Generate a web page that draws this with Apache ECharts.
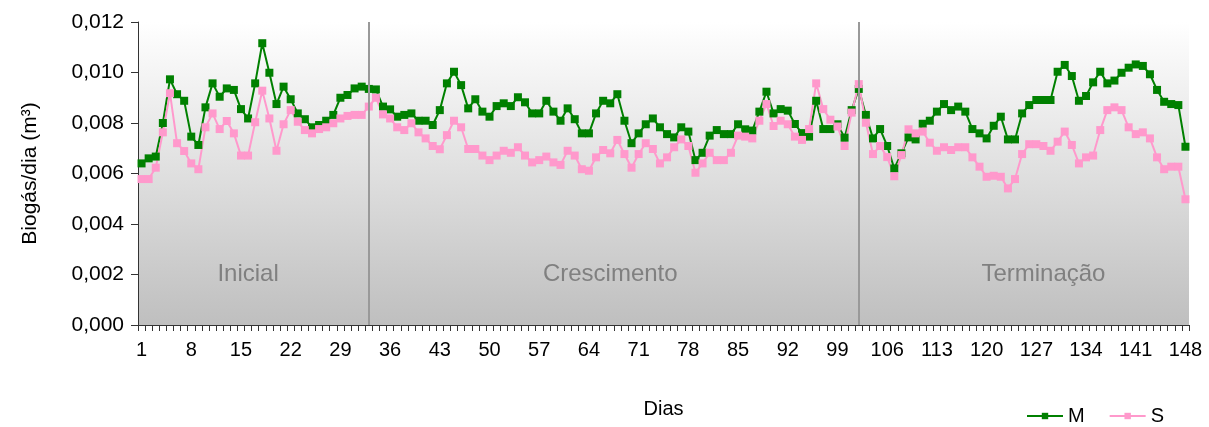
<!DOCTYPE html>
<html>
<head>
<meta charset="utf-8">
<script src="https://cdn.jsdelivr.net/npm/echarts@6/dist/echarts.min.js"></script>
<style>
  html, body { margin: 0; padding: 0; background: #fff; }
  #chart { width: 1209px; height: 427px; }
</style>
</head>
<body>
<div id="chart"></div>
<script>
// dias 1..148
const days = Array.from({ length: 148 }, (_, i) => String(i + 1));

// biogas por dia (m3)
const serieM = [
  0.0064, 0.0066, 0.00667, 0.0080, 0.00973, 0.00914, 0.00888, 0.00746, 0.00713, 0.00862,
  0.00957, 0.00904, 0.00937, 0.00931, 0.00855, 0.00818, 0.00957, 0.01116, 0.00999, 0.00875,
  0.00944, 0.00894, 0.00838, 0.00815, 0.00783, 0.00792, 0.00809, 0.00832, 0.0090, 0.00911,
  0.00937, 0.00944, 0.00935, 0.00933, 0.00865, 0.00854, 0.00825, 0.00832, 0.00838, 0.00809,
  0.00809, 0.00792, 0.00851, 0.00957, 0.01003, 0.0095, 0.00858, 0.00894, 0.00845, 0.00825,
  0.00867, 0.00878, 0.00867, 0.00902, 0.00882, 0.00838, 0.00838, 0.00888, 0.00845, 0.00809,
  0.00858, 0.00815, 0.00759, 0.00759, 0.00838, 0.00888, 0.00878, 0.00914, 0.00809, 0.0072,
  0.00759, 0.00795, 0.00818, 0.00783, 0.00756, 0.00743, 0.00783, 0.00766, 0.00653, 0.00682,
  0.0075, 0.00772, 0.00756, 0.00756, 0.00795, 0.00775, 0.0077, 0.00845, 0.00924, 0.00838,
  0.00855, 0.00849, 0.00796, 0.0076, 0.00746, 0.00888, 0.00776, 0.00776, 0.00795, 0.00742,
  0.00851, 0.00935, 0.00832, 0.00739, 0.00776, 0.00709, 0.0062, 0.0068, 0.00743, 0.00735,
  0.00797, 0.00809, 0.00845, 0.00875, 0.00851, 0.00865, 0.00845, 0.00776, 0.00759, 0.00739,
  0.00789, 0.00825, 0.00735, 0.00735, 0.00838, 0.00871, 0.00891, 0.00891, 0.00891, 0.01003,
  0.0103, 0.00986, 0.00888, 0.00907, 0.00961, 0.01003, 0.00957, 0.00968, 0.00999, 0.01019,
  0.01032, 0.01026, 0.00993, 0.00931, 0.00884, 0.00875, 0.00871, 0.00706
];
const serieS = [
  0.00578, 0.00578, 0.00623, 0.00763, 0.00918, 0.0072, 0.00689, 0.0064, 0.00617, 0.00783,
  0.00838, 0.00776, 0.00808, 0.00759, 0.00671, 0.00671, 0.00803, 0.00928, 0.00818, 0.0069,
  0.00795, 0.00851, 0.00805, 0.00772, 0.00759, 0.00776, 0.00783, 0.00799, 0.00818, 0.00828,
  0.00832, 0.00832, 0.00865, 0.0090, 0.00834, 0.00818, 0.00783, 0.00772, 0.00799, 0.00763,
  0.00739, 0.00709, 0.00696, 0.00752, 0.00809, 0.00783, 0.00697, 0.00697, 0.00671, 0.00653,
  0.00671, 0.0069, 0.00682, 0.00704, 0.00671, 0.00644, 0.00653, 0.00667, 0.00644, 0.00634,
  0.0069, 0.00671, 0.00617, 0.00611, 0.00664, 0.00693, 0.0068, 0.00733, 0.00677, 0.00623,
  0.00677, 0.0072, 0.00697, 0.0064, 0.00664, 0.00704, 0.00735, 0.00709, 0.00603, 0.0064,
  0.00682, 0.00653, 0.00653, 0.00682, 0.0075, 0.00746, 0.00739, 0.00809, 0.00875, 0.00788,
  0.00809, 0.00795, 0.00746, 0.00733, 0.00776, 0.00957, 0.00855, 0.00813, 0.00786, 0.00709,
  0.00841, 0.00954, 0.00801, 0.00677, 0.00709, 0.00665, 0.00589, 0.00673, 0.00775, 0.00759,
  0.00766, 0.00722, 0.0069, 0.00704, 0.00693, 0.00704, 0.00704, 0.00664, 0.00627, 0.00587,
  0.00591, 0.00587, 0.00541, 0.00578, 0.00677, 0.00716, 0.00716, 0.00709, 0.0069, 0.00726,
  0.00766, 0.00713, 0.0064, 0.00664, 0.00671, 0.00772, 0.00851, 0.00862, 0.00851, 0.00783,
  0.00756, 0.00763, 0.00739, 0.00664, 0.00617, 0.00627, 0.00627, 0.00498
];

// fases do processo
const phaseBreaks = ['33', '102'];
const phaseNames = ['Inicial', 'Crescimento', 'Terminação'];
const phaseLabelDays = ['16', '67', '128'];
const phaseLabelLevel = 0.002;

const font = '"Liberation Sans", Arial, sans-serif';
const chart = echarts.init(document.getElementById('chart'));

const option = {
  animation: false,
  textStyle: { fontFamily: font },
  grid: {
    left: 138, right: 20, top: 22, bottom: 102,
    show: true,
    borderWidth: 0,
    backgroundColor: new echarts.graphic.LinearGradient(0, 0, 0, 1, [
      { offset: 0, color: '#ffffff' },
      { offset: 1, color: '#bfbfbf' }
    ])
  },
  legend: {
    right: 40, bottom: -4,
    itemWidth: 36, itemHeight: 8, itemGap: 24,
    textStyle: { fontSize: 20, color: '#000', fontFamily: font },
    data: ['M', 'S']
  },
  xAxis: {
    type: 'category',
    data: days,
    boundaryGap: true,
    name: 'Dias',
    nameLocation: 'middle',
    nameGap: 74,
    nameTextStyle: { fontSize: 20, color: '#000' },
    axisLine: { lineStyle: { color: '#333', width: 1 } },
    axisTick: { show: true, interval: 0, length: 6, lineStyle: { color: '#333' } },
    axisLabel: { interval: 6, fontSize: 20, color: '#000', margin: 15 },
    splitLine: { show: false }
  },
  yAxis: {
    type: 'value',
    min: 0, max: 0.012, interval: 0.002,
    name: 'Biogás/dia (m³)',
    nameLocation: 'middle',
    nameGap: 97,
    nameTextStyle: { fontSize: 21, color: '#000' },
    axisLine: { show: true, lineStyle: { color: '#333', width: 1 } },
    axisTick: { show: true, length: 7, lineStyle: { color: '#333' } },
    axisLabel: {
      fontSize: 21, color: '#000', margin: 14,
      formatter: v => v.toFixed(3).replace('.', ',')
    },
    splitLine: { show: false }
  },
  series: [
    {
      name: 'M',
      type: 'line',
      data: serieM,
      symbol: 'rect',
      symbolSize: 8,
      showAllSymbol: true,
      lineStyle: { color: '#008000', width: 2 },
      itemStyle: { color: '#008000' },
      markLine: {
        silent: true,
        symbol: 'none',
        label: { show: false },
        lineStyle: { color: '#999', width: 2, type: 'solid' },
        data: phaseBreaks.map(d => ({ xAxis: d }))
      }
    },
    {
      name: 'S',
      type: 'line',
      data: serieS,
      symbol: 'rect',
      symbolSize: 8,
      showAllSymbol: true,
      lineStyle: { color: '#ff99cc', width: 2 },
      itemStyle: { color: '#ff99cc' }
    }
  ]
};
chart.setOption(option);

// rotulos das fases, posicionados pela escala do grafico
const texts = phaseNames.map((name, i) => {
  const p = chart.convertToPixel({ gridIndex: 0 }, [phaseLabelDays[i], phaseLabelLevel]);
  return {
    type: 'text',
    x: p[0], y: p[1],
    style: {
      text: name,
      fill: '#808080',
      fontSize: 24,
      fontFamily: font,
      textAlign: 'center',
      textVerticalAlign: 'middle'
    }
  };
});
chart.setOption({ graphic: texts });
</script>
</body>
</html>
